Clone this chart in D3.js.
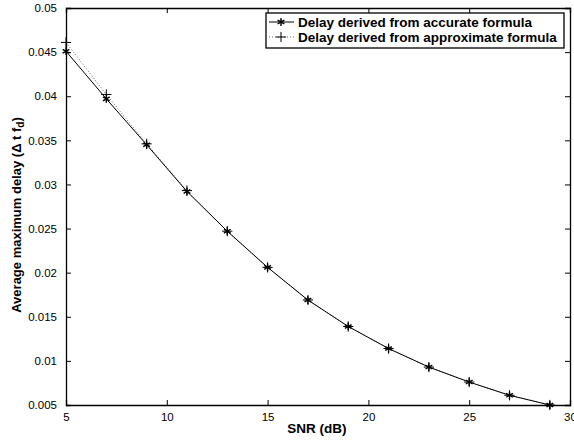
<!DOCTYPE html>
<html>
<head>
<meta charset="utf-8">
<script src="https://cdn.jsdelivr.net/npm/d3@7"></script>
<style>
  body { margin: 0; background: #fff; }
  svg { display: block; font-family: "Liberation Sans", Arial, sans-serif; }
</style>
</head>
<body>
<div id="chart-area"></div>
<script>
const snr = [5, 7, 9, 11, 13, 15, 17, 19, 21, 23, 25, 27, 29]
const accurate = [0.0451, 0.0397, 0.0345, 0.0292, 0.0247, 0.0206, 0.0169, 0.0139, 0.0114, 0.0093, 0.0076, 0.0061, 0.0050]
const approximate = [0.0461, 0.0402, 0.0346, 0.0293, 0.0247, 0.0206, 0.0169, 0.0139, 0.0114, 0.0093, 0.0076, 0.0061, 0.0050]
const xTicks = [5, 10, 15, 20, 25, 30]
const yTicks = [0.005, 0.01, 0.015, 0.02, 0.025, 0.03, 0.035, 0.04, 0.045, 0.05]
const legendLabels = ['Delay derived from accurate formula', 'Delay derived from approximate formula']

const W = 574, H = 445
const MARGIN = { LEFT: 66, RIGHT: 4, TOP: 8, BOTTOM: 40 }
const WIDTH = W - MARGIN.LEFT - MARGIN.RIGHT
const HEIGHT = H - MARGIN.TOP - MARGIN.BOTTOM

const svg = d3.select('#chart-area').append('svg')
  .attr('width', W)
  .attr('height', H)

const g = svg.append('g')
  .attr('transform', `translate(${MARGIN.LEFT}, ${MARGIN.TOP})`)

const x = d3.scaleLinear().domain([5, 30]).range([0, WIDTH])
const y = d3.scaleLinear().domain([0.005, 0.05]).range([HEIGHT, 0])

// axes, ticks pointing inward like matlab
const fmt = d => String(+d.toFixed(3))
g.append('g')
  .attr('transform', `translate(0, ${HEIGHT})`)
  .call(d3.axisBottom(x).tickValues(xTicks).tickSize(-5).tickPadding(8).tickFormat(fmt))
g.append('g')
  .call(d3.axisTop(x).tickValues(xTicks).tickSize(-5).tickFormat(''))
g.append('g')
  .call(d3.axisLeft(y).tickValues(yTicks).tickSize(-5).tickPadding(9).tickFormat(fmt))
g.append('g')
  .attr('transform', `translate(${WIDTH}, 0)`)
  .call(d3.axisRight(y).tickValues(yTicks).tickSize(-5).tickFormat(''))

g.selectAll('.domain').attr('stroke', '#000').attr('stroke-width', 1.3)
g.selectAll('.tick line').attr('stroke', '#000')
g.selectAll('.tick text').attr('font-size', '11.5px').attr('fill', '#000')
  .attr('font-family', '"Liberation Sans", Arial, sans-serif')

// lines
const line = d3.line().x(d => x(d[0])).y(d => y(d[1]))
const accData = snr.map((s, i) => [s, accurate[i]])
const appData = snr.map((s, i) => [s, approximate[i]])

g.append('path')
  .datum(appData)
  .attr('d', line)
  .attr('fill', 'none')
  .attr('stroke', '#666')
  .attr('stroke-width', 1)
  .attr('stroke-dasharray', '1,2')

g.append('path')
  .datum(accData)
  .attr('d', line)
  .attr('fill', 'none')
  .attr('stroke', '#000')
  .attr('stroke-width', 1)

const star = d3.symbol().type(d3.symbolAsterisk).size(42)
const plus = d3.symbol().type(d3.symbolPlus).size(36)

g.selectAll('.app-mark').data(appData).enter().append('path')
  .attr('class', 'app-mark')
  .attr('transform', d => `translate(${x(d[0])}, ${y(d[1])})`)
  .attr('d', plus)
  .attr('fill', 'none')
  .attr('stroke', '#000')
  .attr('stroke-width', 1)

g.selectAll('.acc-mark').data(accData).enter().append('path')
  .attr('class', 'acc-mark')
  .attr('transform', d => `translate(${x(d[0])}, ${y(d[1])})`)
  .attr('d', star)
  .attr('fill', 'none')
  .attr('stroke', '#000')
  .attr('stroke-width', 1.4)

// X label
svg.append('text')
  .attr('x', MARGIN.LEFT + x(17.45))
  .attr('y', 433)
  .attr('font-size', '13.5px')
  .attr('font-weight', 'bold')
  .attr('text-anchor', 'middle')
  .text('SNR (dB)')

// Y label
const yl = svg.append('text')
  .attr('transform', `translate(21, 215) rotate(-90)`)
  .attr('font-size', '13px')
  .attr('font-weight', 'bold')
  .attr('text-anchor', 'middle')
yl.append('tspan').text('Average maximum delay (\u0394 t f')
yl.append('tspan').attr('font-size', '10px').attr('dy', 3).text('d')
yl.append('tspan').attr('dy', -3).text(')')

// legend
const legend = svg.append('g')
legend.append('rect')
  .attr('x', 266).attr('y', 13)
  .attr('width', 298).attr('height', 35)
  .attr('fill', '#fff')
  .attr('stroke', '#000')
  .attr('stroke-width', 1.3)

legendLabels.forEach((label, i) => {
  const ly = 22 + i * 15
  legend.append('line')
    .attr('x1', 269).attr('x2', 294).attr('y1', ly).attr('y2', ly)
    .attr('stroke', i === 0 ? '#000' : '#666')
    .attr('stroke-dasharray', i === 0 ? null : '1,2')
  legend.append('path')
    .attr('transform', `translate(281, ${ly})`)
    .attr('d', i === 0 ? star : plus)
    .attr('fill', 'none')
    .attr('stroke', '#000')
    .attr('stroke-width', i === 0 ? 1.4 : 1)
  legend.append('text')
    .attr('x', 298).attr('y', ly + 4.5)
    .attr('font-size', '13.5px')
    .attr('font-weight', 'bold')
    .text(label)
})
</script>
</body>
</html>
